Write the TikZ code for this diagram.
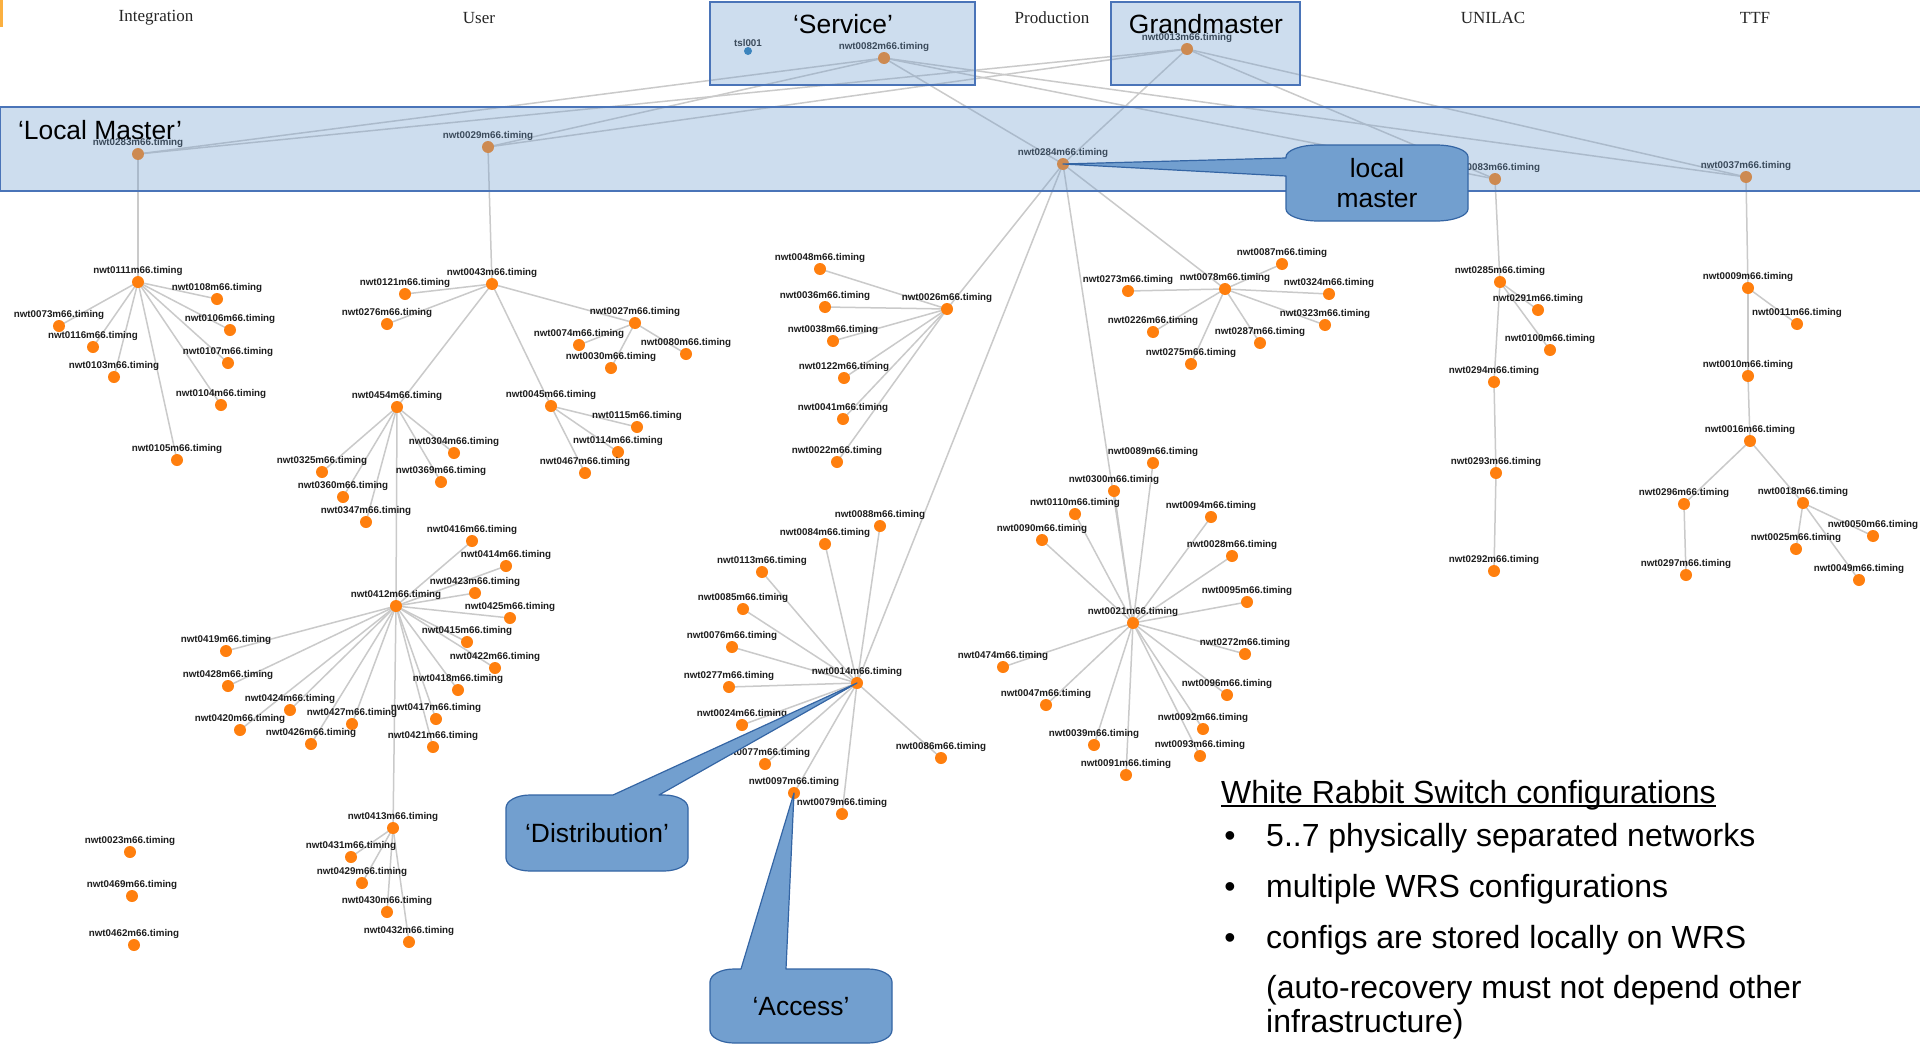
\documentclass[tikz,border=0pt]{standalone}
\usepackage{fontspec}
\setmainfont{Liberation Sans}
\newfontfamily\serifface{Liberation Serif}
\usetikzlibrary{calc}
\definecolor{dot}{HTML}{FF7F0E}
\definecolor{tslblue}{HTML}{1F77B4}
\definecolor{edgegrey}{HTML}{CACACA}
\definecolor{labtext}{HTML}{1E1E1E}
\definecolor{boxfill}{HTML}{729FCF}
\definecolor{boxline}{HTML}{4A74B8}
\definecolor{callline}{HTML}{3465A4}
\definecolor{oddbar}{HTML}{FBB040}
\pgfdeclarelayer{links}
\pgfdeclarelayer{overlay}
\pgfsetlayers{links,main,overlay}
% one timing switch: dot plus its host name above it
\newcommand\switchnode[3]{\node[dev,label={[lab]above:nwt#1m66.timing}] (n#1) at (#2,#3) {};}
\begin{document}
\begin{tikzpicture}[x=1pt,y=-1pt,
  dev/.style={circle,fill=dot,minimum size=12pt,inner sep=0pt},
  lab/.style={font=\bfseries\fontsize{9.8}{10}\selectfont,text=labtext,inner sep=0pt},
  edge/.style={draw=edgegrey,line width=1.5pt},
  band/.style={fill=boxfill,fill opacity=0.35,draw=boxline,line width=1.2pt},
  bigtxt/.style={font=\fontsize{26.4}{30}\selectfont,text=black,inner sep=0pt,align=center},
  zone/.style={font=\serifface\fontsize{17}{20}\selectfont,text=black!85,inner sep=0pt},
  callout/.style={fill=boxfill,draw=callline,line width=1.2pt,line join=round},
  notes/.style={font=\fontsize{32}{36}\selectfont,text=black,inner sep=0pt,anchor=base west},
]
\useasboundingbox (0,0) rectangle (1920,1044);

% network zones
\node[zone] (zInt) at (156,18) {Integration};
\node[zone] (zUser) at (479,18) {User};
\node[zone] (zProd) at (1052,18) {Production};
\node[zone] (zUni) at (1493,18) {UNILAC};
\node[zone] (zTTF) at (1755,18) {TTF};

% grandmaster, service and local masters
\node[circle,fill=tslblue,minimum size=8pt,inner sep=0pt,label={[lab]above:tsl001}] (ntsl) at (748,51) {};
\switchnode{0082}{884}{58}
\switchnode{0013}{1187}{49}
\switchnode{0283}{138}{154}
\switchnode{0029}{488}{147}
\switchnode{0284}{1063}{164}
\switchnode{0083}{1495}{179}
\switchnode{0037}{1746}{177}

% Integration
\switchnode{0111}{138}{282}
\switchnode{0108}{217}{299}
\switchnode{0073}{59}{326}
\switchnode{0106}{230}{330}
\switchnode{0116}{93}{347}
\switchnode{0103}{114}{377}
\switchnode{0107}{228}{363}
\switchnode{0104}{221}{405}
\switchnode{0105}{177}{460}

% User
\switchnode{0043}{492}{284}
\switchnode{0121}{405}{294}
\switchnode{0276}{387}{324}
\switchnode{0027}{635}{323}
\switchnode{0074}{579}{345}
\switchnode{0080}{686}{354}
\switchnode{0030}{611}{368}
\switchnode{0045}{551}{406}
\switchnode{0115}{637}{427}
\switchnode{0114}{618}{452}
\switchnode{0467}{585}{473}
\switchnode{0454}{397}{407}
\switchnode{0304}{454}{453}
\switchnode{0325}{322}{472}
\switchnode{0369}{441}{482}
\switchnode{0360}{343}{497}
\switchnode{0347}{366}{522}
\switchnode{0412}{396}{606}
\switchnode{0416}{472}{541}
\switchnode{0414}{506}{566}
\switchnode{0423}{475}{593}
\switchnode{0425}{510}{618}
\switchnode{0415}{467}{642}
\switchnode{0422}{495}{668}
\switchnode{0418}{458}{690}
\switchnode{0417}{436}{719}
\switchnode{0421}{433}{747}
\switchnode{0419}{226}{651}
\switchnode{0428}{228}{686}
\switchnode{0424}{290}{710}
\switchnode{0420}{240}{730}
\switchnode{0427}{352}{724}
\switchnode{0426}{311}{744}
\switchnode{0413}{393}{828}
\switchnode{0431}{351}{857}
\switchnode{0429}{362}{883}
\switchnode{0430}{387}{912}
\switchnode{0432}{409}{942}
\switchnode{0023}{130}{852}
\switchnode{0469}{132}{896}
\switchnode{0462}{134}{945}

% Production
\switchnode{0026}{947}{309}
\switchnode{0048}{820}{269}
\switchnode{0036}{825}{307}
\switchnode{0038}{833}{341}
\switchnode{0122}{844}{378}
\switchnode{0041}{843}{419}
\switchnode{0022}{837}{462}
\switchnode{0078}{1225}{289}
\switchnode{0087}{1282}{264}
\switchnode{0273}{1128}{291}
\switchnode{0324}{1329}{294}
\switchnode{0226}{1153}{332}
\switchnode{0323}{1325}{325}
\switchnode{0287}{1260}{343}
\switchnode{0275}{1191}{364}
\switchnode{0014}{857}{683}
\switchnode{0088}{880}{526}
\switchnode{0084}{825}{544}
\switchnode{0113}{762}{572}
\switchnode{0085}{743}{609}
\switchnode{0076}{732}{647}
\switchnode{0277}{729}{687}
\switchnode{0024}{742}{725}
\switchnode{0077}{765}{764}
\switchnode{0097}{794}{793}
\switchnode{0079}{842}{814}
\switchnode{0086}{941}{758}
\switchnode{0021}{1133}{623}
\switchnode{0089}{1153}{463}
\switchnode{0300}{1114}{491}
\switchnode{0110}{1075}{514}
\switchnode{0094}{1211}{517}
\switchnode{0090}{1042}{540}
\switchnode{0028}{1232}{556}
\switchnode{0095}{1247}{602}
\switchnode{0272}{1245}{654}
\switchnode{0474}{1003}{667}
\switchnode{0096}{1227}{695}
\switchnode{0047}{1046}{705}
\switchnode{0092}{1203}{729}
\switchnode{0039}{1094}{745}
\switchnode{0093}{1200}{756}
\switchnode{0091}{1126}{775}

% UNILAC
\switchnode{0285}{1500}{282}
\switchnode{0291}{1538}{310}
\switchnode{0100}{1550}{350}
\switchnode{0294}{1494}{382}
\switchnode{0293}{1496}{473}
\switchnode{0292}{1494}{571}

% TTF
\switchnode{0009}{1748}{288}
\switchnode{0011}{1797}{324}
\switchnode{0010}{1748}{376}
\switchnode{0016}{1750}{441}
\switchnode{0296}{1684}{504}
\switchnode{0018}{1803}{503}
\switchnode{0050}{1873}{536}
\switchnode{0025}{1796}{549}
\switchnode{0297}{1686}{575}
\switchnode{0049}{1859}{580}

% white page and fibre links underneath the switches
\begin{pgfonlayer}{links}
\fill[white] (0,0) rectangle (1920,1044);
\fill[oddbar] (0,0) rectangle (3,27);
\foreach \a/\b in {0082/0283,0082/0029,0082/0284,0082/0083,0082/0037,
  0013/0283,0013/0029,0013/0284,0013/0083,0013/0037,
  0283/0111,0111/0108,0111/0073,0111/0106,0111/0116,0111/0103,0111/0107,0111/0104,0111/0105,
  0029/0043,0043/0121,0043/0276,0043/0027,0043/0454,0043/0045,
  0027/0074,0027/0080,0027/0030,
  0045/0115,0045/0114,0045/0467,
  0454/0325,0454/0360,0454/0347,0454/0304,0454/0369,0454/0412,
  0412/0416,0412/0414,0412/0423,0412/0425,0412/0415,0412/0422,0412/0418,0412/0417,
  0412/0421,0412/0419,0412/0428,0412/0424,0412/0420,0412/0427,0412/0426,0412/0413,
  0413/0431,0413/0429,0413/0430,0413/0432,
  0284/0026,0284/0014,0284/0021,0284/0078,
  0026/0048,0026/0036,0026/0038,0026/0122,0026/0041,0026/0022,
  0078/0087,0078/0273,0078/0324,0078/0226,0078/0323,0078/0287,0078/0275,
  0014/0088,0014/0084,0014/0113,0014/0085,0014/0076,0014/0277,0014/0024,0014/0077,
  0014/0097,0014/0079,0014/0086,
  0021/0089,0021/0300,0021/0110,0021/0090,0021/0094,0021/0028,0021/0095,0021/0272,
  0021/0096,0021/0474,0021/0047,0021/0039,0021/0091,0021/0092,0021/0093,
  0083/0285,0285/0291,0285/0100,0285/0294,0294/0293,0293/0292,
  0037/0009,0009/0011,0009/0010,0010/0016,0016/0296,0016/0018,0296/0297,
  0018/0050,0018/0025,0018/0049}
  \draw[edge] (n\a.center) -- (n\b.center);
\end{pgfonlayer}

\begin{pgfonlayer}{overlay}
% translucent layer boxes
\draw[band] (0.6,107) rectangle (1921,191);
\draw[band] (710,2) rectangle (975,85);
\draw[band] (1111,2) rectangle (1300,85);
\node[bigtxt] (tLocal) at (100,130) {‘Local Master’};
\node[bigtxt] (tService) at (843,24) {‘Service’};
\node[bigtxt] (tGrand) at (1206,24) {Grandmaster};

% callouts
\draw[callout] (1286,158) -- (n0284.center) -- (1286,176) -- (1286,209)
  .. controls (1286,215.6) and (1300.3,221) .. (1318,221) -- (1436,221)
  .. controls (1453.7,221) and (1468,215.6) .. (1468,209) -- (1468,157)
  .. controls (1468,150.4) and (1453.7,145) .. (1436,145) -- (1318,145)
  .. controls (1300.3,145) and (1286,150.4) .. (1286,157) -- cycle;
\node[bigtxt] (cLocal) at (1377,183) {local\\master};

\draw[callout] (613,795) -- (n0014.center) -- (659,795) -- (664,795)
  .. controls (677.25,795) and (688,800.8) .. (688,808) -- (688,858)
  .. controls (688,865.2) and (677.25,871) .. (664,871) -- (530,871)
  .. controls (516.75,871) and (506,865.2) .. (506,858) -- (506,808)
  .. controls (506,800.8) and (516.75,795) .. (530,795) -- cycle;
\node[bigtxt] (cDist) at (597,833) {‘Distribution’};

\draw[callout] (741,969) -- (n0097.center) -- (786,969) -- (868,969)
  .. controls (881.25,969) and (892,974.8) .. (892,982) -- (892,1030)
  .. controls (892,1037.2) and (881.25,1043) .. (868,1043) -- (734,1043)
  .. controls (720.75,1043) and (710,1037.2) .. (710,1030) -- (710,982)
  .. controls (710,974.8) and (720.75,969) .. (734,969) -- cycle;
\node[bigtxt] (cAccess) at (801,1007) {‘Access’};
\end{pgfonlayer}

% notes
\node[notes] (title) at (1221,803) {White Rabbit Switch configurations};
\draw[line width=1.4pt] ($(title.base west)+(0,3)$) -- ($(title.base east)+(0,3)$);
\node[notes,anchor=base] (b1) at (1230,846) {•};
\node[notes,anchor=base] (b2) at (1230,897) {•};
\node[notes,anchor=base] (b3) at (1230,948) {•};
\node[notes] (l1) at (1266,846) {5..7 physically separated networks};
\node[notes] (l2) at (1266,897) {multiple WRS configurations};
\node[notes] (l3) at (1266,948) {configs are stored locally on WRS};
\node[notes] (l4) at (1266,998) {(auto-recovery must not depend other};
\node[notes] (l5) at (1266,1032) {infrastructure)};
\end{tikzpicture}
\end{document}
